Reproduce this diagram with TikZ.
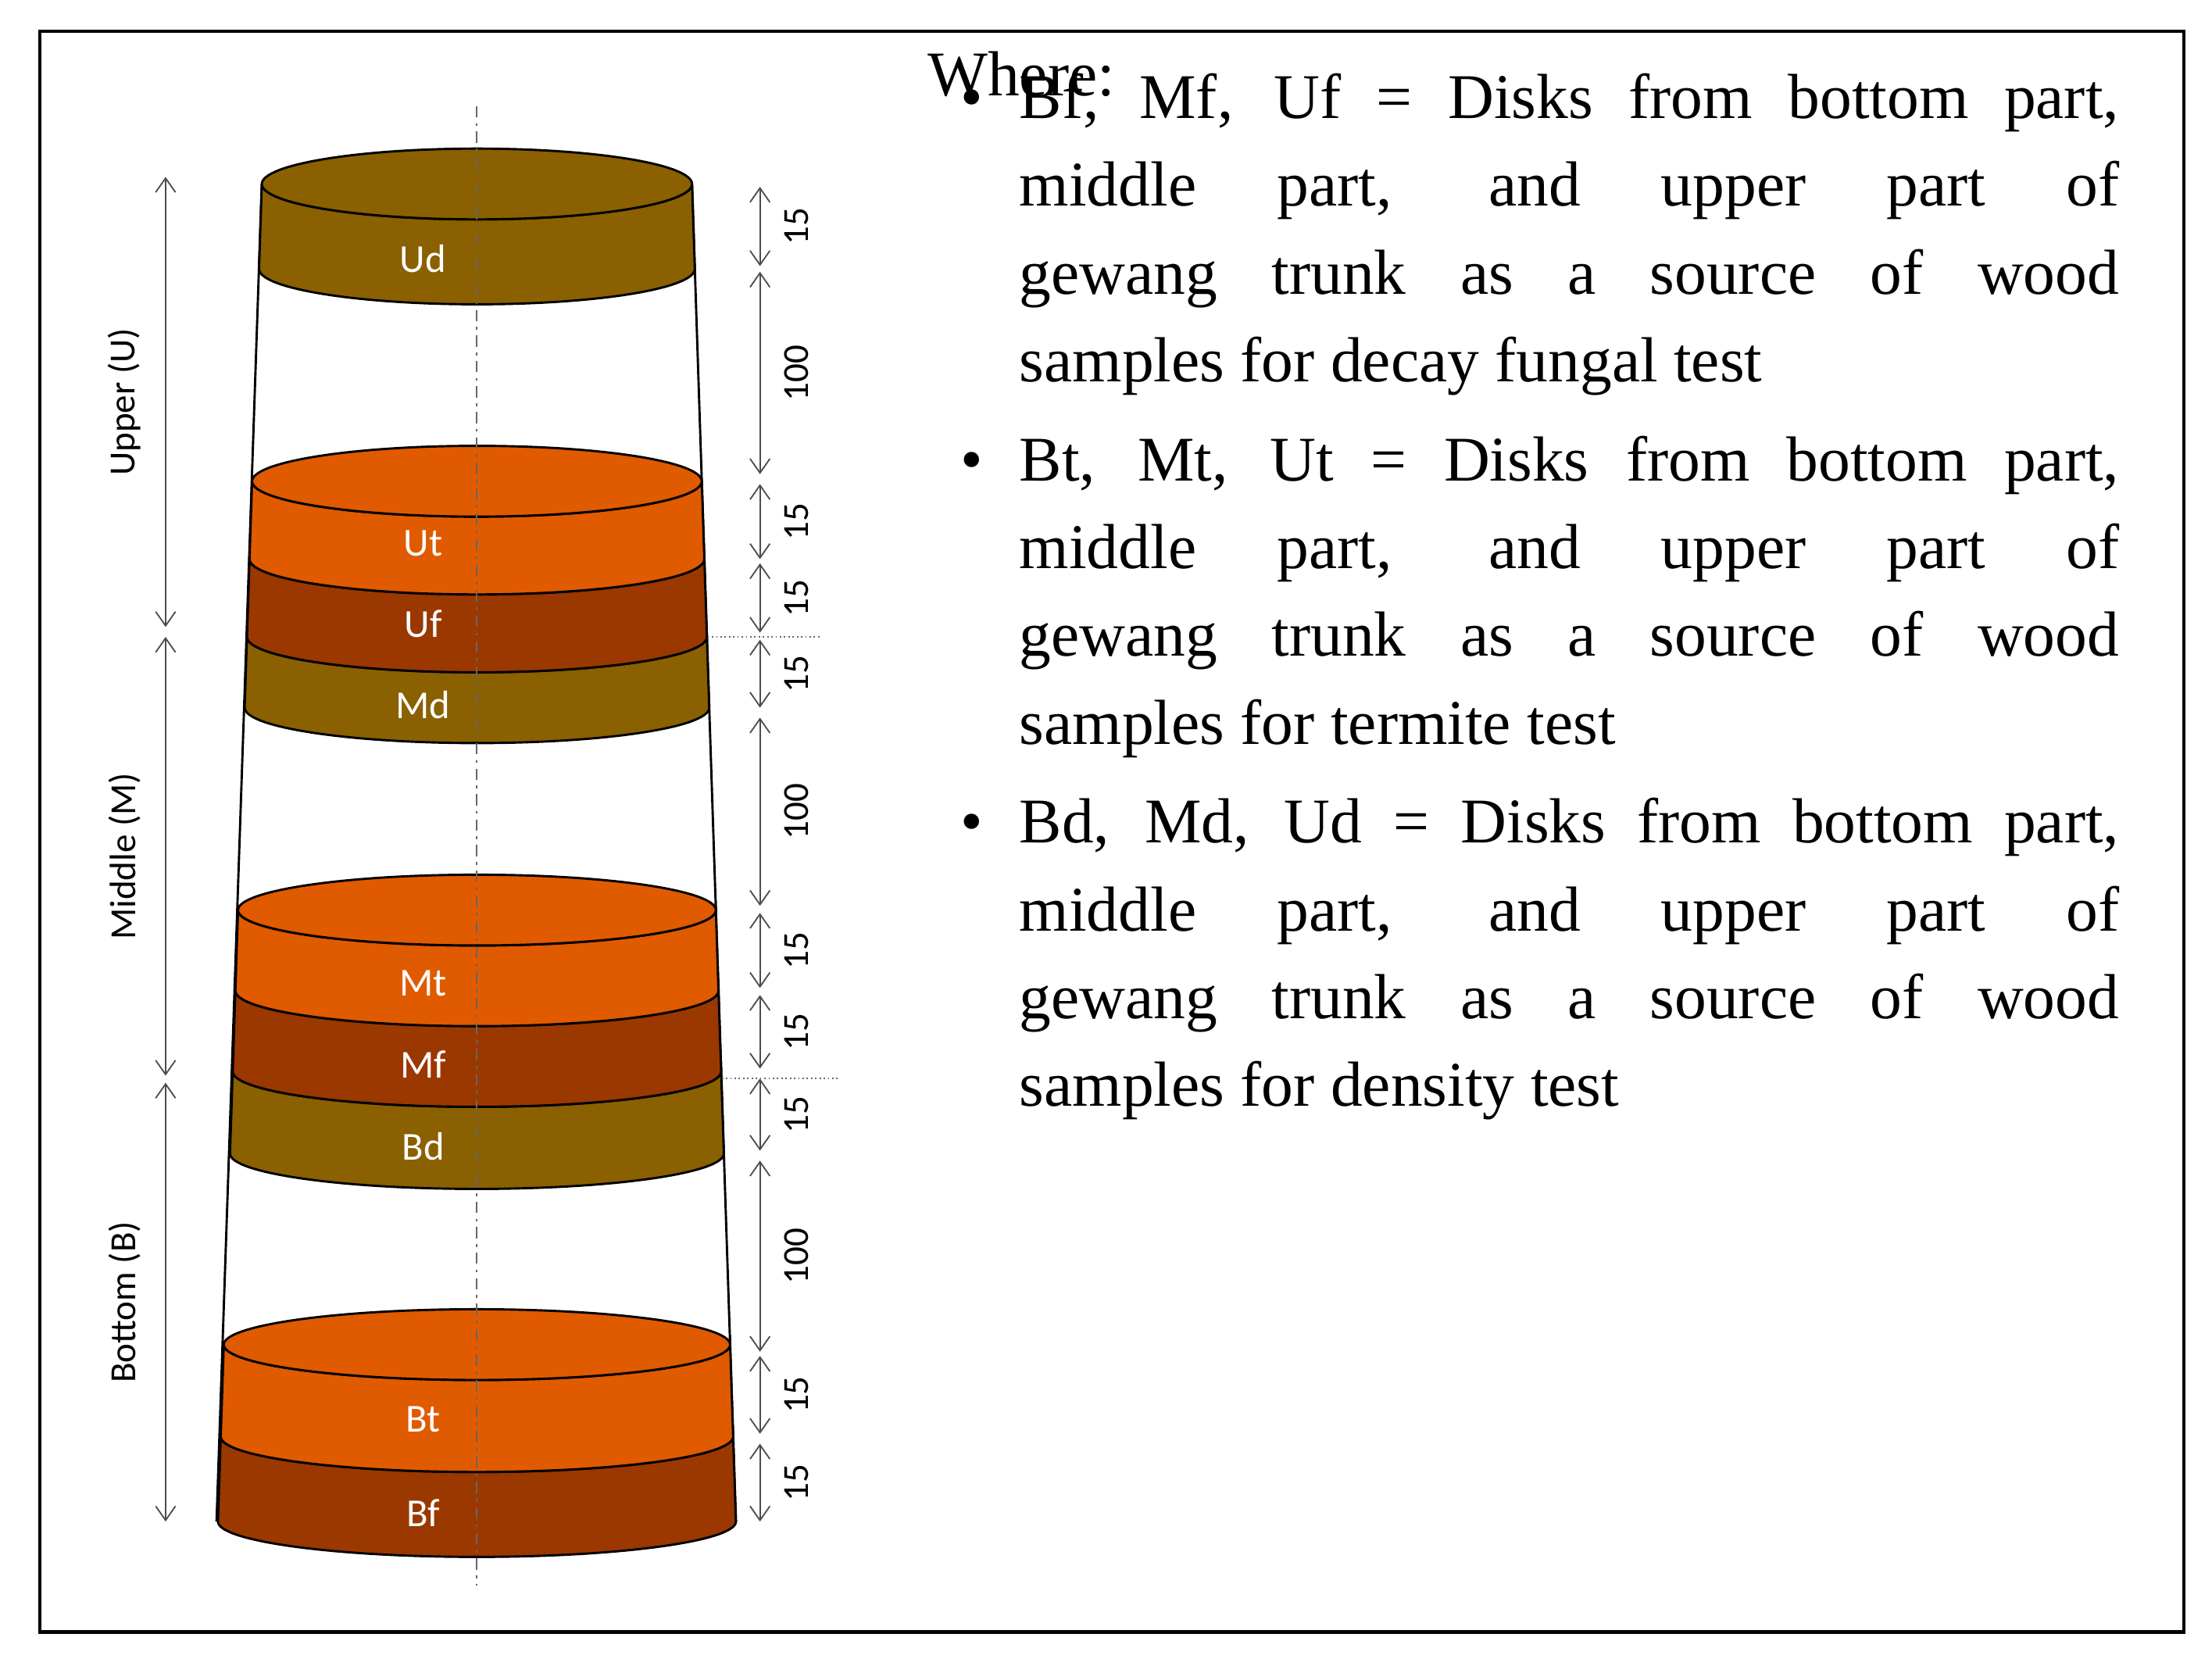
\documentclass[tikz,border=0pt]{standalone}
\usepackage{fontspec}
\setmainfont{Liberation Serif}
\newfontfamily\lblfont{Carlito}
\usetikzlibrary{arrows.meta}
\definecolor{cD}{HTML}{8A6000}
\definecolor{cT}{HTML}{E05A00}
\definecolor{cF}{HTML}{9A3800}
\begin{document}
\begin{tikzpicture}[x=0.5pt,y=-0.5pt,
  dim/.style={draw=black!70,line width=0.5pt,{Straight Barb[length=5pt,width=7pt]}-{Straight Barb[length=5pt,width=7pt]}},
  disklbl/.style={font=\lblfont\fontsize{14}{16}\selectfont,text=white},
  numlbl/.style={font=\lblfont\fontsize{13}{15}\selectfont,rotate=90},
  partlbl/.style={font=\lblfont\fontsize{13}{15}\selectfont,rotate=90}]
\useasboundingbox (0,0) rectangle (1563,1177);
\draw[line width=1.2pt] (28,22) rectangle (1543,1153);
% trunk outline
\draw[line width=0.8pt] (185,130) -- (153,1075);
\draw[line width=0.8pt] (489,130) -- (520,1075);
\def\cx{337}
\def\ry{25}
\newcommand\band[3]{%
  \pgfmathsetmacro\wa{152+(#1-130)/945*31}%
  \pgfmathsetmacro\wb{152+(#2-130)/945*31}%
  \draw[fill=#3,line width=0.8pt] (\cx-\wa,#1) -- (\cx-\wb,#2)
    arc[start angle=180,end angle=360,x radius=\wb,y radius=-\ry]
    -- (\cx+\wa,#1)
    arc[start angle=0,end angle=-180,x radius=\wa,y radius=-\ry] -- cycle;}
\newcommand\topell[2]{%
  \pgfmathsetmacro\wa{152+(#1-130)/945*31}%
  \draw[fill=#2,line width=0.8pt] (\cx,#1) ellipse[x radius=\wa,y radius=\ry];}
\band{1015}{1075}{cF}
\band{950}{1015}{cT}
\topell{950}{cT}
\band{757}{815}{cD}
\band{700}{757}{cF}
\band{643}{700}{cT}
\topell{643}{cT}
\band{450}{500}{cD}
\band{395}{450}{cF}
\band{340}{395}{cT}
\topell{340}{cT}
\band{130}{190}{cD}
\topell{130}{cD}
\draw[black!60,dash pattern=on 4pt off 2pt on 1pt off 2pt,line width=0.5pt] (337,75) -- (337,1120);
\draw[black!60,densely dotted,line width=0.5pt] (500,450) -- (580,450);
\draw[black!60,densely dotted,line width=0.5pt] (510,762) -- (592,762);
\node[disklbl] (ud) at (299,183) {Ud};
\node[disklbl] (ut) at (299,384) {Ut};
\node[disklbl] (uf) at (299,441) {Uf};
\node[disklbl] (md) at (299,498) {Md};
\node[disklbl] (mt) at (299,695) {Mt};
\node[disklbl] (mf) at (299,752) {Mf};
\node[disklbl] (bd) at (299,810) {Bd};
\node[disklbl] (bt) at (299,1003) {Bt};
\node[disklbl] (bf) at (299,1069) {Bf};
\foreach \a/\b/\t [count=\i] in {132/188/15,192/335/100,342/395/15,398/447/15,452/500/15,507/640/100,645/698/15,703/755/15,762/813/15,820/955/100,958/1013/15,1020/1075/15}{
  \coordinate (da\i) at (537,\a);
  \coordinate (db\i) at (537,\b);
  \draw[dim] (da\i) -- (db\i);
  \node[numlbl] (n\i) at (563,{(\a+\b)/2}) {\t};
}
\foreach \a/\b/\t [count=\i] in {125/443/Upper (U),450/760/Middle (M),765/1075/Bottom (B)}{
  \coordinate (pa\i) at (117,\a);
  \coordinate (pb\i) at (117,\b);
  \draw[dim] (pa\i) -- (pb\i);
  \node[partlbl] (p\i) at (88,{(\a+\b)/2}) {\t};
}
\node[anchor=north west,inner sep=0pt,text width=421pt,align=justify,font=\fontsize{22.5}{31}\selectfont] (txt) at (655,36) {%
\hyphenpenalty=10000\exhyphenpenalty=10000
Where:\vspace{-31pt}
\setlength{\leftmargini}{32.5pt}\setlength{\labelsep}{13pt}%
\begin{itemize}\setlength{\itemsep}{0pt}\setlength{\parsep}{0pt}\setlength{\topsep}{0pt}\setlength{\partopsep}{0pt}
\item Bf, Mf, Uf = Disks from bottom part,\linebreak middle part, and upper part of\linebreak gewang trunk as a source of wood\linebreak samples for decay fungal test
\item Bt, Mt, Ut = Disks from bottom part,\linebreak middle part, and upper part of\linebreak gewang trunk as a source of wood\linebreak samples for termite test
\item Bd, Md, Ud = Disks from bottom part,\linebreak middle part, and upper part of\linebreak gewang trunk as a source of wood\linebreak samples for density test
\end{itemize}};
\end{tikzpicture}
\end{document}
